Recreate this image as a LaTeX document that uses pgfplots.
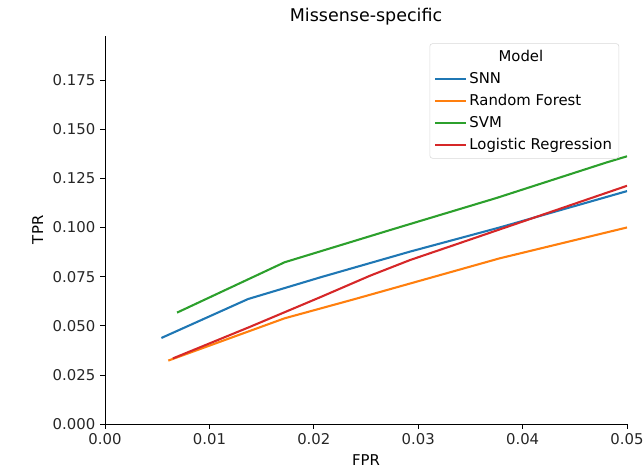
\documentclass[border=0pt]{standalone}
\usepackage{pgfplots}
\pgfplotsset{compat=1.18}
\usepackage{fontspec}
\setmainfont{DejaVu Sans}
\definecolor{tabblue}{HTML}{1F77B4}
\definecolor{taborange}{HTML}{FF7F0E}
\definecolor{tabgreen}{HTML}{2CA02C}
\definecolor{tabred}{HTML}{D62728}
\begin{document}
\begin{tikzpicture}
\begin{axis}[
  width=375.8pt, height=279.7pt, scale only axis,
  xmin=0, xmax=0.05, ymin=0, ymax=0.1976,
  axis lines*=left, axis line style={-, black, line width=0.6pt},
  tick align=outside, major tick length=3.5pt,
  tick style={black, line width=0.6pt},
  xtick={0,0.01,0.02,0.03,0.04,0.05},
  ytick={0,0.025,0.05,0.075,0.1,0.125,0.15,0.175},
  xticklabel style={/pgf/number format/.cd, fixed, fixed zerofill, precision=2, assume math mode=true},
  yticklabel style={/pgf/number format/.cd, fixed, fixed zerofill, precision=3, assume math mode=true},
  scaled x ticks=false, scaled y ticks=false,
  tick label style={font=\fontsize{10.7}{12}\selectfont, text=black!85},
  label style={font=\fontsize{10.7}{12}\selectfont},
  xlabel={FPR}, ylabel={TPR},
  title={Missense-specific},
  title style={font=\fontsize{12.6}{14}\selectfont, yshift=-2pt},
  legend style={at={(0.985,0.98)}, anchor=north east, draw=black!15, rounded corners=2pt,
    font=\fontsize{10.7}{12}\selectfont, row sep=2.2pt, inner sep=3pt},
  legend cell align=left,
  legend image code/.code={\draw[#1, line width=1.5pt] (0pt,0pt) -- (22pt,0pt);},
  every axis plot/.append style={line width=1.5pt},
]
\addlegendimage{empty legend}
\addlegendentry{\hspace*{21pt}Model}
\addplot[tabblue] coordinates {(0.00540,0.0438) (0.0137,0.0636) (0.0206,0.0746) (0.0292,0.0877) (0.0378,0.1000) (0.05,0.1185)};
\addlegendentry{SNN}
\addplot[taborange] coordinates {(0.00606,0.0323) (0.0172,0.0538) (0.0238,0.0634) (0.0378,0.0843) (0.05,0.1000)};
\addlegendentry{Random Forest}
\addplot[tabgreen] coordinates {(0.0069,0.0567) (0.0172,0.0823) (0.0275,0.0990) (0.0375,0.1150) (0.048,0.1330) (0.05,0.1362)};
\addlegendentry{SVM}
\addplot[tabred] coordinates {(0.0065,0.0334) (0.0139,0.0495) (0.0206,0.0645) (0.0254,0.0755) (0.0292,0.0834) (0.0334,0.0910) (0.0378,0.0990) (0.05,0.1212)};
\addlegendentry{Logistic Regression}
\end{axis}
\pgfresetboundingbox
\path[use as bounding box] ([shift={(-75.6pt,-32.4pt)}]current axis.south west) rectangle ([shift={(11.5pt,25.6pt)}]current axis.north east);
\end{tikzpicture}
\end{document}
